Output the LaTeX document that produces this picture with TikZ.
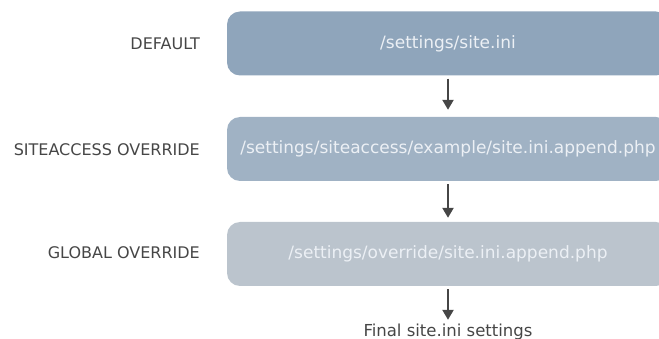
\documentclass[tikz,border=0pt]{standalone}
\usepackage{fontspec}
\setmainfont{DejaVu Sans}
\usetikzlibrary{arrows.meta}
\definecolor{boxA}{RGB}{143,165,187}
\definecolor{boxB}{RGB}{160,178,196}
\definecolor{boxC}{RGB}{187,196,205}
\definecolor{lbl}{RGB}{70,70,70}
\definecolor{boxtxt}{RGB}{236,240,245}
\tikzset{
  layerbox/.style={rounded corners=13pt, minimum width=442pt, minimum height=64pt, inner sep=0pt,
    text=boxtxt, font=\fontsize{17}{20}\selectfont},
  sidelabel/.style={anchor=east, text=lbl, font=\fontsize{16}{19}\selectfont, inner sep=0pt},
  flow/.style={draw=lbl, line width=2.3pt, -{Triangle[length=10pt,width=11pt]}},
}
\begin{document}
\begin{tikzpicture}[x=1pt,y=-1pt]
\clip (0,0) rectangle (659,339);
\useasboundingbox (0,0) rectangle (659,339);
\node[layerbox, fill=boxA] (b1) at (448,43.5) {/settings/site.ini};
\node[layerbox, fill=boxB] (b2) at (448,149) {/settings/siteaccess/example/site.ini.append.php};
\node[layerbox, fill=boxC] (b3) at (448,254) {/settings/override/site.ini.append.php};
\node[text=lbl, font=\fontsize{16.5}{19}\selectfont, inner sep=0pt] (fin) at (448,332) {Final site.ini settings};
\node[sidelabel] (l1) at (200,44) {DEFAULT};
\node[sidelabel] (l2) at (200,150) {SITEACCESS OVERRIDE};
\node[sidelabel] (l3) at (200,253) {GLOBAL OVERRIDE};
\draw[flow, shorten <=3pt, shorten >=7pt] (b1.south) -- (b2.north);
\draw[flow, shorten <=3pt, shorten >=4pt] (b2.south) -- (b3.north);
\draw[flow, shorten <=3pt, shorten >=4pt] (b3.south) -- (fin.north);
\end{tikzpicture}
\end{document}
